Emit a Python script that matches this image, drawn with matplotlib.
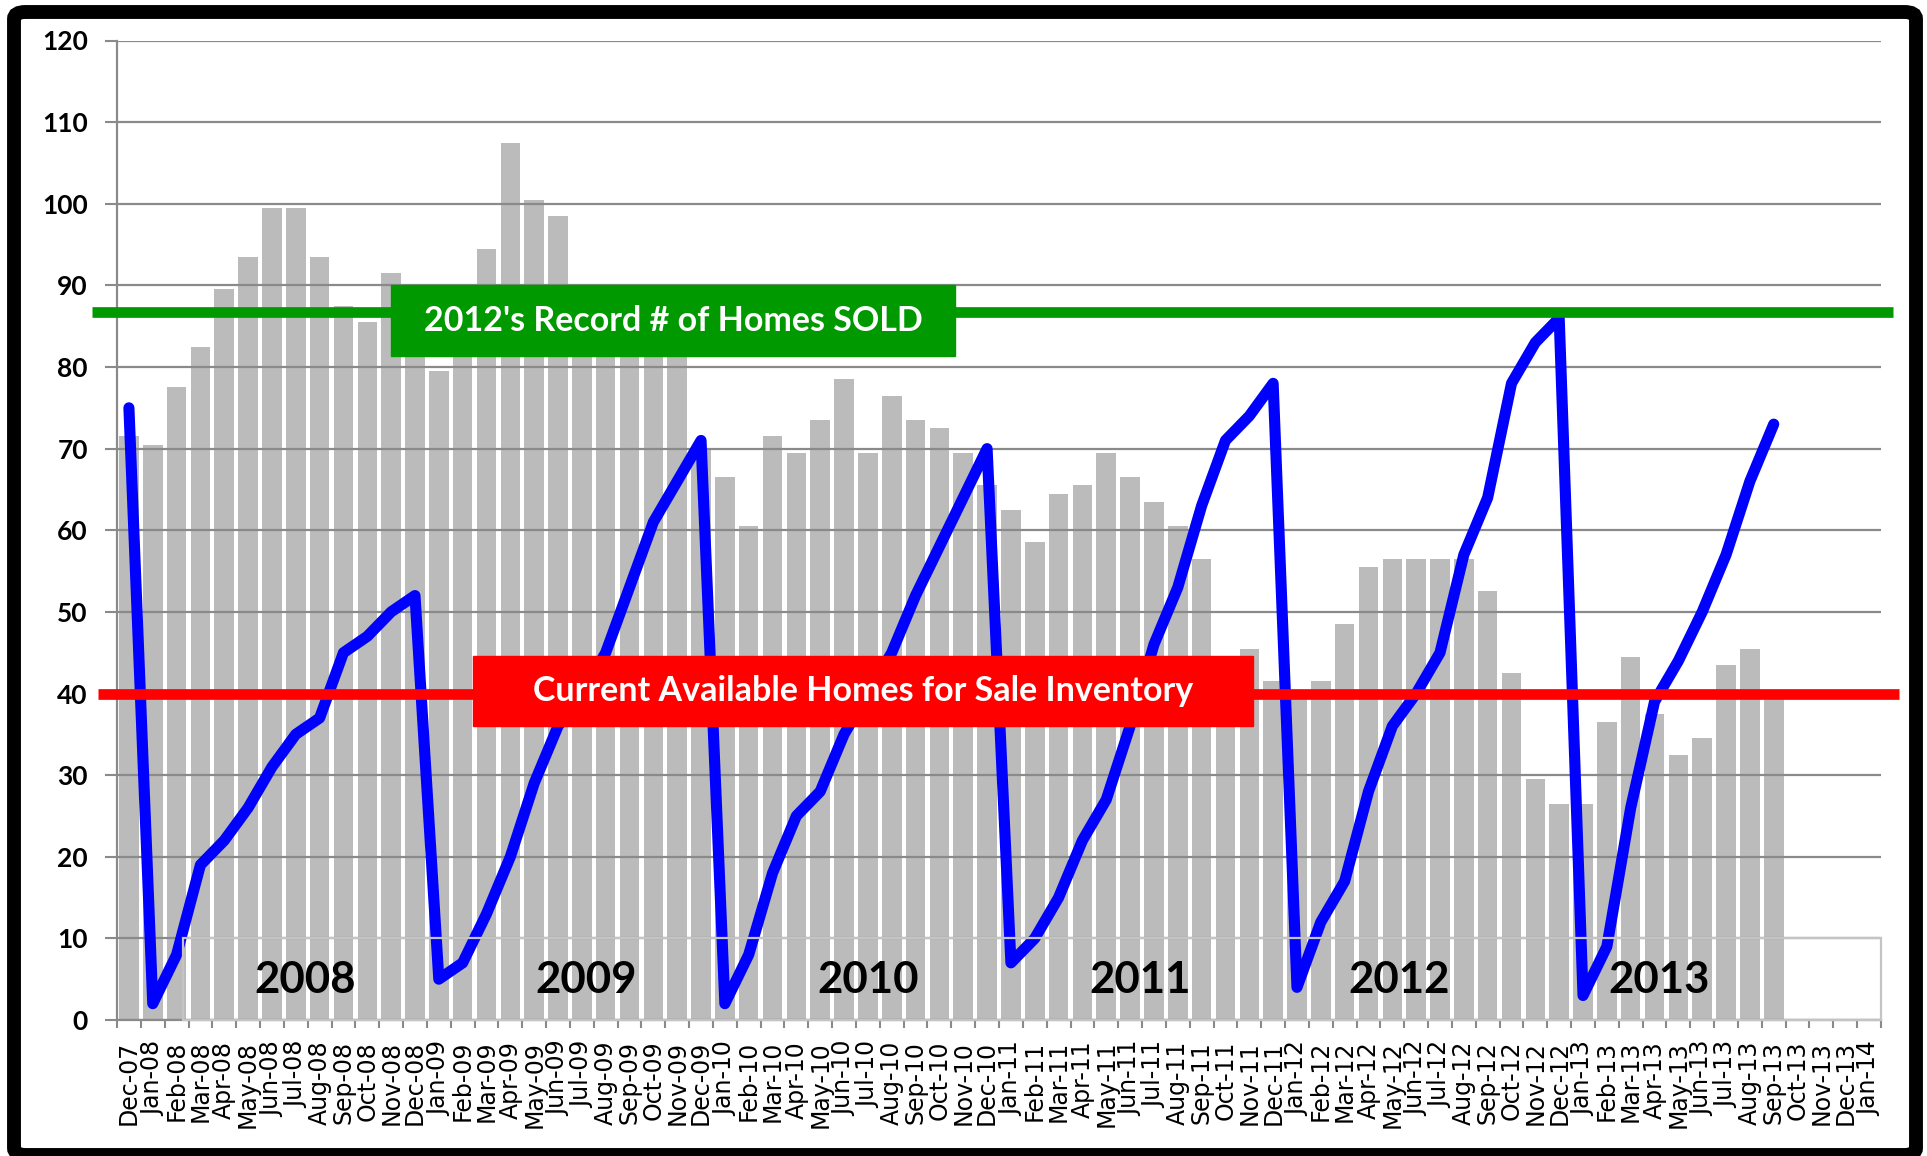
import matplotlib.pyplot as plt
import numpy as np
import pandas as pd
from matplotlib.patches import Rectangle, FancyBboxPatch

# month categories Dec-07 .. Jan-14
months = pd.date_range('2007-12-01', '2014-01-01', freq='MS').strftime('%b-%y').tolist()

# homes for sale inventory (grey bars), Dec-07 .. Sep-13
inventory = [71.5,
             70.5, 77.5, 82.5, 89.5, 93.5, 99.5, 99.5, 93.5, 87.5, 85.5, 91.5, 84,
             79.5, 86, 94.5, 107.5, 100.5, 98.5, 88, 86, 84, 83, 84, 70,
             66.5, 60.5, 71.5, 69.5, 73.5, 78.5, 69.5, 76.5, 73.5, 72.5, 69.5, 65.5,
             62.5, 58.5, 64.5, 65.5, 69.5, 66.5, 63.5, 60.5, 56.5, 44.5, 45.5, 41.5,
             39.5, 41.5, 48.5, 55.5, 56.5, 56.5, 56.5, 56.5, 52.5, 42.5, 29.5, 26.5,
             26.5, 36.5, 44.5, 37.5, 32.5, 34.5, 43.5, 45.5, 39.5]

# year-to-date homes sold (blue line)
sold_ytd = [75,
            2, 8, 19, 22, 26, 31, 35, 37, 45, 47, 50, 52,
            5, 7, 13, 20, 29, 36, 40, 45, 53, 61, 66, 71,
            2, 8, 18, 25, 28, 35, 40, 45, 52, 58, 64, 70,
            7, 10, 15, 22, 27, 36, 46, 53, 63, 71, 74, 78,
            4, 12, 17, 28, 36, 40, 45, 57, 64, 78, 83, 86,
            3, 9, 26, 39, 44, 50, 57, 66, 73]

years = ['2008', '2009', '2010', '2011', '2012', '2013']
year_pos = [7.39, 19.17, 31.0, 42.4, 53.3, 64.2]

record_sold = 86.7
current_inventory = 40

W, H = 1927, 1156
fig = plt.figure(figsize=(W / 100, H / 100), dpi=100)
ax = fig.add_axes([117 / W, 1 - 1020 / H, (1881 - 117) / W, (1020 - 40.5) / H])

n = len(months)
x = np.arange(n)
ax.bar(x[:len(inventory)], inventory, width=0.82, color='#bbbbbb', zorder=1)
ax.plot(x[:len(sold_ytd)], sold_ytd, color='#0000ff', lw=8,
        solid_joinstyle='round', solid_capstyle='round', zorder=3)

ax.set_xlim(-0.5, n - 0.5)
ax.set_ylim(0, 120)
ax.set_yticks(range(0, 121, 10))
ax.yaxis.grid(True, color='#8a8a8a', lw=1.6)
ax.set_axisbelow(False)
for gl in ax.get_ygridlines():
    gl.set_zorder(2)

ax.set_xticks(x)
ax.set_xticklabels(months, rotation=90, fontsize=17, family='DejaVu Sans')
ax.set_xticks(np.arange(-0.5, n), minor=True)
ax.tick_params(axis='x', which='major', length=0, pad=15)
ax.tick_params(axis='x', which='minor', length=6, width=1.5, color='#8a8a8a')
ax.tick_params(axis='y', length=9, width=1.5, color='#8a8a8a', pad=12)
for lab in ax.get_yticklabels():
    lab.set_family('Lato')
    lab.set_fontweight('bold')
    lab.set_fontsize(19)

for s in ['top', 'right']:
    ax.spines[s].set_visible(False)
for s in ['left', 'bottom']:
    ax.spines[s].set_color('#8a8a8a')
    ax.spines[s].set_linewidth(1.6)

# text box round the year labels
ax.add_patch(Rectangle((2.27, 0), n - 0.5 - 2.27, 10, fill=False,
                       ec='#c4c4c4', lw=1.6, zorder=4, clip_on=False))
for yr, p in zip(years, year_pos):
    ax.text(p, 4.9, yr, ha='center', va='center', fontsize=31.5,
            family='Lato', fontweight='bold', color='black', zorder=5)

# record line
ax.plot([-1.55, 73.99], [record_sold, record_sold], color='#009900', lw=7.7,
        clip_on=False, zorder=6, solid_capstyle='butt')
ax.add_patch(Rectangle((10.99, 81.3), 34.65 - 10.99, 90.0 - 81.3,
                       color='#009900', zorder=7, clip_on=False))
ax.text(22.82, 85.65, "2012's Record # of Homes SOLD", ha='center', va='center',
        color='white', fontsize=24.5, family='Lato', fontweight='bold', zorder=8)

# inventory line
ax.plot([-1.30, 74.25], [current_inventory, current_inventory], color='#ff0000',
        lw=7.7, clip_on=False, zorder=6, solid_capstyle='butt')
ax.add_patch(Rectangle((14.43, 36.0), 47.15 - 14.43, 44.6 - 36.0,
                       color='#ff0000', zorder=7, clip_on=False))
ax.text(30.79, 40.3, 'Current Available Homes for Sale Inventory', ha='center',
        va='center', color='white', fontsize=24.5, family='Lato', fontweight='bold',
        zorder=8)

# black rounded frame
fig.patches.append(FancyBboxPatch((14 / W, 1 - 1155 / H), (1916 - 14) / W, (1155 - 12) / H,
                                  boxstyle='round,pad=0,rounding_size=0.006',
                                  transform=fig.transFigure, fill=False,
                                  ec='black', lw=10, zorder=10))

fig.savefig('out.png', dpi=100)
